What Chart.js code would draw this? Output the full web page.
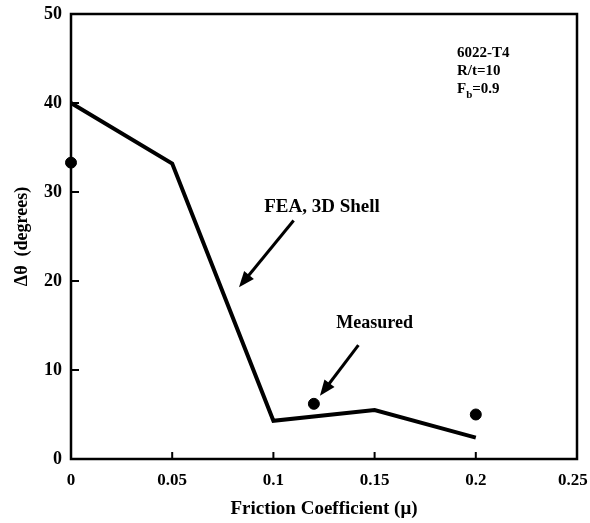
<!DOCTYPE html>
<html>
<head>
<meta charset="utf-8">
<script src="https://cdn.jsdelivr.net/npm/chart.js@4"></script>
<style>
  body { margin: 0; background: #fff; }
  #wrap { width: 590px; height: 523px; }
</style>
</head>
<body>
<div id="wrap"><canvas id="chart" width="590" height="523"></canvas></div>
<script>
// FEA (3D shell) curve
const feaFriction = [0, 0.05, 0.1, 0.15, 0.2];
const feaAngle = [40, 33.2, 4.3, 5.5, 2.4];

// measured springback
const measFriction = [0, 0.12, 0.2];
const measAngle = [33.3, 6.2, 5.0];

const xTicks = [0, 0.05, 0.1, 0.15, 0.2, 0.25];
const yTicks = [0, 10, 20, 30, 40, 50];

const serif = '"Liberation Serif", "Times New Roman", serif';

// frame, inward tick marks, labels and arrows
const notes = {
    id: 'notes',
    afterDraw(chart) {
        const { ctx, chartArea: a, scales: { x, y } } = chart;
        ctx.save();
        ctx.strokeStyle = '#000';
        ctx.lineWidth = 2.5;
        ctx.strokeRect(a.left, a.top, a.right - a.left, a.bottom - a.top);

        ctx.lineWidth = 2;
        ctx.beginPath();
        xTicks.slice(1, -1).forEach(v => {
            const px = x.getPixelForValue(v);
            ctx.moveTo(px, a.bottom);
            ctx.lineTo(px, a.bottom - 7);
        });
        yTicks.slice(1, -1).forEach(v => {
            const py = y.getPixelForValue(v);
            ctx.moveTo(a.left, py);
            ctx.lineTo(a.left + 8, py);
        });
        ctx.stroke();

        const arrow = (x0, y0, x1, y1) => {
            const ax = x.getPixelForValue(x0), ay = y.getPixelForValue(y0);
            const bx = x.getPixelForValue(x1), by = y.getPixelForValue(y1);
            const ang = Math.atan2(by - ay, bx - ax);
            const head = 17;
            ctx.lineWidth = 3;
            ctx.beginPath();
            ctx.moveTo(ax, ay);
            ctx.lineTo(bx - Math.cos(ang) * head * 0.8, by - Math.sin(ang) * head * 0.8);
            ctx.stroke();
            ctx.beginPath();
            ctx.moveTo(bx, by);
            ctx.lineTo(bx - head * Math.cos(ang - 0.38), by - head * Math.sin(ang - 0.38));
            ctx.lineTo(bx - head * Math.cos(ang + 0.38), by - head * Math.sin(ang + 0.38));
            ctx.closePath();
            ctx.fill();
        };
        ctx.fillStyle = '#000';
        arrow(0.110, 26.8, 0.083, 19.3);
        arrow(0.142, 12.8, 0.123, 7.1);

        ctx.font = 'bold 19px ' + serif;
        ctx.textBaseline = 'middle';
        ctx.textAlign = 'center';
        ctx.fillText('FEA, 3D Shell', x.getPixelForValue(0.124), y.getPixelForValue(28.3));
        ctx.font = 'bold 18px ' + serif;
        ctx.fillText('Measured', x.getPixelForValue(0.150), y.getPixelForValue(15.2));

        ctx.textAlign = 'left';
        const tx = 457;
        ctx.font = 'bold 15px ' + serif;
        ctx.fillText('6022-T4', tx, 53);
        ctx.fillText('R/t=10', tx, 71);
        ctx.fillText('F', tx, 89);
        const fw = ctx.measureText('F').width;
        ctx.font = 'bold 11px ' + serif;
        ctx.fillText('b', tx + fw, 95);
        const bw = ctx.measureText('b').width;
        ctx.font = 'bold 15px ' + serif;
        ctx.fillText('=0.9', tx + fw + bw, 89);
        ctx.restore();
    }
};

new Chart(document.getElementById('chart').getContext('2d'), {
    type: 'scatter',
    data: {
        datasets: [
            {
                label: 'FEA, 3D Shell',
                data: feaFriction.map((f, i) => ({ x: f, y: feaAngle[i] })),
                showLine: true,
                borderColor: '#000',
                borderWidth: 4,
                pointRadius: 0,
                clip: false
            },
            {
                label: 'Measured',
                data: measFriction.map((f, i) => ({ x: f, y: measAngle[i] })),
                backgroundColor: '#000',
                borderColor: '#000',
                pointRadius: 5.5,
                clip: false
            }
        ]
    },
    options: {
        responsive: false,
        animation: false,
        layout: { padding: { top: 14, right: 0, left: 0, bottom: 0 } },
        plugins: { legend: { display: false }, tooltip: { enabled: false } },
        scales: {
            x: {
                type: 'linear',
                min: 0,
                max: 0.25,
                afterBuildTicks: s => { s.ticks = xTicks.map(v => ({ value: v })); },
                afterFit: s => { s.height = 64; s.paddingRight = 13; s.paddingLeft = 0; },
                grid: { display: false, drawTicks: false },
                border: { display: false },
                ticks: {
                    color: '#000',
                    padding: 11,
                    maxRotation: 0,
                    font: { family: serif, size: 17, weight: 'bold' },
                    // last label sits a little left of its tick, as in the original
                    callback: v => v === 0.25 ? String(v) + '\u00a0\u00a0' : String(v)
                },
                title: {
                    display: true,
                    text: 'Friction Coefficient (\u03bc)',
                    color: '#000',
                    padding: { top: 0, bottom: 3 },
                    font: { family: serif, size: 19, weight: 'bold' }
                }
            },
            y: {
                min: 0,
                max: 50,
                afterBuildTicks: s => { s.ticks = yTicks.map(v => ({ value: v })); },
                afterFit: s => { s.width = 71; s.paddingTop = 0; s.paddingBottom = 0; },
                grid: { display: false, drawTicks: false },
                border: { display: false },
                ticks: {
                    color: '#000',
                    padding: 9,
                    font: { family: serif, size: 18, weight: 'bold' }
                },
                title: {
                    display: true,
                    text: '\u0394\u03b8  (degrees)',
                    color: '#000',
                    padding: { top: 12, bottom: 0 },
                    font: { family: serif, size: 18, weight: 'bold' }
                }
            }
        }
    },
    plugins: [notes]
});
</script>
</body>
</html>
